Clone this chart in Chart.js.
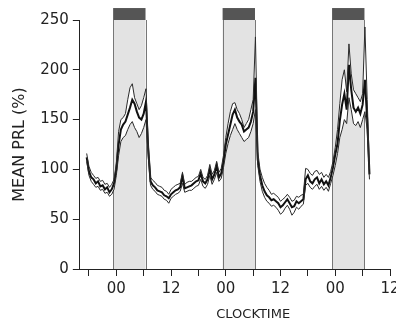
<!DOCTYPE html>
<html>
<head>
<meta charset="utf-8">
<script src="https://cdn.jsdelivr.net/npm/chart.js@4"></script>
<style>
  html, body { margin: 0; padding: 0; background: #fff; }
  #wrap { position: relative; width: 396px; height: 326px; }
</style>
</head>
<body>
<div id="wrap"><canvas id="chart"></canvas></div>
<script>
// one sample every half hour, hour 0 = first midnight
const firstHour = -6.5;
const stepHours = 0.5;

const meanPrl = [
  112, 98, 92, 90, 86, 88, 83, 84, 80, 82, 77, 80, 86,
  100, 125, 140, 145, 148, 155, 162, 170, 166, 158, 152, 150, 156, 168,
  120, 88, 84, 82, 79, 78, 77, 74, 73, 71, 75, 77, 79, 80, 82, 93, 81, 82, 83, 84, 86, 88, 89, 96, 88, 86, 90, 100, 90, 95, 104, 92, 96, 108,
  125, 135, 145, 155, 160, 152, 148, 145, 138, 140, 142, 148, 158, 192,
  110, 94, 84, 78, 74, 72, 69, 70, 68, 66, 62, 64, 67, 70, 66, 62, 63, 68, 66, 68, 70, 90, 94, 88, 86, 90, 92, 86, 90, 85, 88, 84, 92, 102,
  115, 126, 149, 165, 176, 160, 205, 180, 162, 158, 162, 156, 165, 190, 150, 95
];
const upperSem = [
  116, 103, 97, 94, 91, 92, 88, 89, 85, 86, 82, 85, 90,
  106, 138, 150, 152, 156, 170, 182, 186, 172, 166, 160, 164, 172, 181,
  126, 92, 89, 87, 84, 83, 82, 79, 78, 75, 80, 82, 84, 85, 86, 97, 85, 87, 88, 88, 90, 92, 93, 100, 92, 90, 94, 105, 95, 99, 108, 97, 101, 114,
  132, 146, 158, 166, 167, 160, 156, 150, 142, 146, 150, 160, 170, 233,
  118, 100, 92, 86, 82, 79, 75, 76, 74, 72, 68, 70, 72, 75, 72, 68, 69, 73, 72, 74, 75, 101, 100, 96, 94, 98, 99, 95, 97, 92, 95, 92, 98, 108,
  122, 140, 166, 190, 200, 178, 226, 196, 180, 176, 172, 168, 176, 243, 170, 100
];
const lowerSem = [
  108, 94, 88, 85, 82, 83, 79, 80, 76, 77, 73, 75, 80,
  94, 114, 128, 132, 134, 140, 145, 148, 142, 138, 132, 136, 142, 150,
  112, 84, 80, 78, 75, 74, 73, 70, 69, 66, 71, 73, 75, 76, 78, 86, 77, 78, 79, 79, 81, 83, 84, 90, 83, 81, 85, 94, 85, 90, 97, 88, 91, 102,
  116, 126, 134, 140, 146, 140, 136, 132, 128, 130, 132, 138, 146, 160,
  104, 88, 78, 72, 68, 66, 63, 64, 62, 59, 55, 57, 61, 64, 60, 54, 57, 62, 60, 63, 65, 84, 86, 82, 80, 83, 85, 80, 83, 79, 82, 78, 86, 94,
  104, 116, 132, 140, 150, 146, 172, 160, 146, 144, 148, 142, 150, 158, 140, 90
];

// lights-off periods, hours from first midnight
const nights = [[-0.7, 6.4], [23.3, 30.4], [47.3, 54.4]];

const hourTicks = [-6, 0, 6, 12, 18, 24, 30, 36, 42, 48, 54, 60];
const hourLabels = ['', '00', '', '12', '', '00', '', '12', '', '00', '', '12'];

const toPoints = arr => arr.map((v, i) => ({ x: firstHour + i * stepHours, y: v }));

const textColor = '#222';

// grey boxes for the dark periods plus the black bars above them
const nightShading = {
  id: 'nightShading',
  beforeDraw(chart) {
    const { ctx, scales: { x, y } } = chart;
    ctx.save();
    nights.forEach(([from, to]) => {
      const x0 = x.getPixelForValue(from);
      const x1 = x.getPixelForValue(to);
      const yTop = y.getPixelForValue(250);
      const yBottom = y.getPixelForValue(0);
      ctx.fillStyle = '#e3e3e3';
      ctx.fillRect(x0, yTop, x1 - x0, yBottom - yTop);
      ctx.strokeStyle = '#777';
      ctx.lineWidth = 1;
      ctx.beginPath();
      ctx.moveTo(Math.round(x0) + 0.5, yTop);
      ctx.lineTo(Math.round(x0) + 0.5, yBottom);
      ctx.moveTo(Math.round(x1) + 0.5, yTop);
      ctx.lineTo(Math.round(x1) + 0.5, yBottom);
      ctx.stroke();
      const barTop = y.getPixelForValue(262);
      ctx.fillStyle = '#555';
      ctx.fillRect(x0, barTop, x1 - x0, yTop - barTop);
    });
    ctx.restore();
  },
  afterDraw(chart) {
    const { ctx, scales: { x } } = chart;
    ctx.save();
    ctx.font = '13px "DejaVu Sans"';
    ctx.fillStyle = textColor;
    ctx.textAlign = 'center';
    ctx.textBaseline = 'middle';
    ctx.fillText('CLOCKTIME', x.getPixelForValue(30), chart.height - 11);
    ctx.restore();
  }
};

new Chart(document.getElementById('chart'), {
  type: 'line',
  data: {
    datasets: [
      {
        label: 'mean - SEM',
        data: toPoints(lowerSem),
        borderColor: '#2a2a2a',
        borderWidth: 1,
        fill: false
      },
      {
        label: 'mean + SEM',
        data: toPoints(upperSem),
        borderColor: '#2a2a2a',
        borderWidth: 1,
        backgroundColor: '#ffffff',
        fill: '-1'
      },
      {
        label: 'mean',
        data: toPoints(meanPrl),
        borderColor: '#111',
        borderWidth: 2,
        fill: false
      }
    ]
  },
  options: {
    responsive: true,
    maintainAspectRatio: false,
    animation: false,
    layout: { padding: { left: 10, right: 0, top: 20, bottom: 24 } },
    elements: { point: { radius: 0 }, line: { tension: 0 } },
    plugins: {
      legend: { display: false },
      tooltip: { enabled: false },
      filler: { drawTime: 'beforeDatasetsDraw' }
    },
    scales: {
      x: {
        type: 'linear',
        min: -8,
        max: 60,
        afterBuildTicks: axis => { axis.ticks = hourTicks.map(v => ({ value: v })); },
        afterFit: axis => { axis.paddingRight = 6; },
        ticks: {
          autoSkip: false,
          maxRotation: 0,
          padding: 4,
          color: textColor,
          font: { family: 'DejaVu Sans', size: 15 },
          callback: (value) => hourLabels[hourTicks.indexOf(value)]
        },
        grid: { drawOnChartArea: false, drawTicks: true, tickLength: 7, color: '#222' },
        border: { display: true, color: '#222', width: 1 }
      },
      y: {
        min: 0,
        max: 250,
        ticks: {
          stepSize: 50,
          padding: 4,
          color: textColor,
          font: { family: 'DejaVu Sans', size: 15 }
        },
        grid: { drawOnChartArea: false, drawTicks: true, tickLength: 7, color: '#222' },
        border: { display: true, color: '#222', width: 1 },
        title: {
          display: true,
          text: 'MEAN PRL (%)',
          color: textColor,
          font: { family: 'DejaVu Sans', size: 16 },
          padding: { top: 0, bottom: 7 }
        }
      }
    }
  },
  plugins: [nightShading]
});
</script>
</body>
</html>
